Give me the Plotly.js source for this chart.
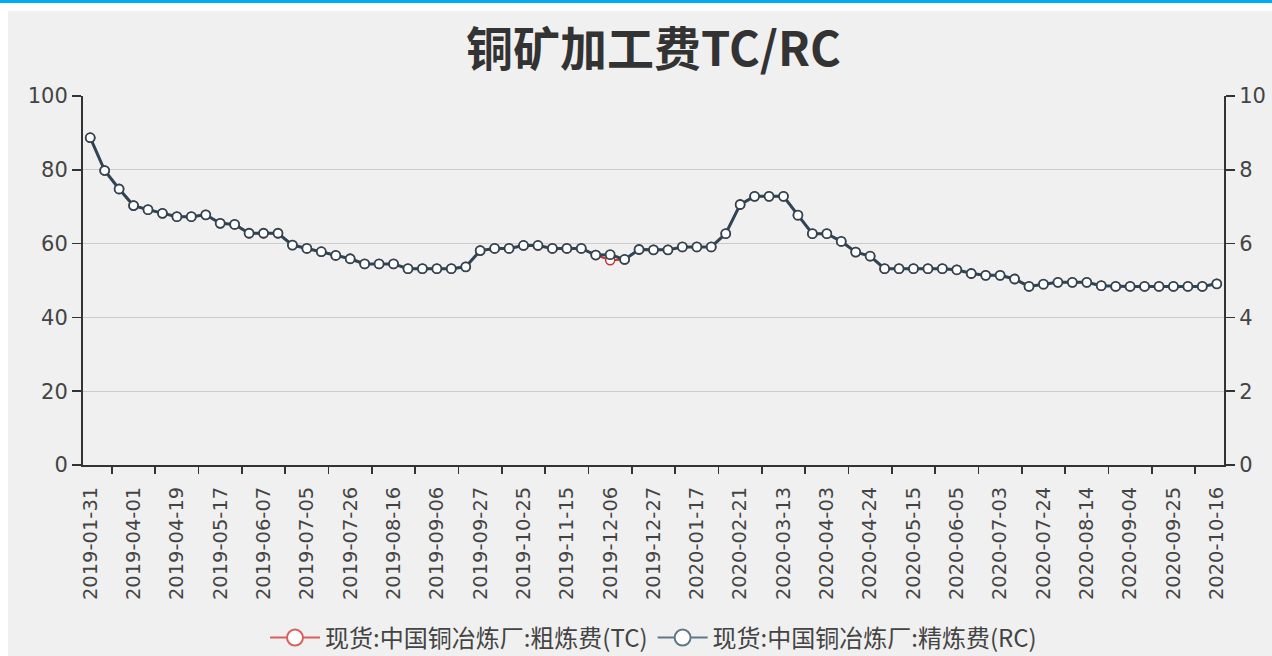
<!DOCTYPE html>
<html>
<head>
<meta charset="utf-8">
<script src="https://cdn.plot.ly/plotly-3.0.1.min.js"></script>
<style>
  html, body { margin: 0; padding: 0; background: #ffffff; width: 1272px; height: 656px; overflow: hidden; }
  #bar { position: absolute; left: 0; top: 0; width: 1272px; height: 3px; background: #00aeef; }
  #chart { position: absolute; left: 8px; top: 11px; width: 1264px; height: 645px; }
</style>
</head>
<body>
<div id="bar"></div>
<div id="chart"></div>
<script>
const dates = [
  "2019-01-31","2019-02-28","2019-03-15","2019-04-01","2019-04-04","2019-04-12",
  "2019-04-19","2019-04-26","2019-05-10","2019-05-17","2019-05-24","2019-05-31",
  "2019-06-07","2019-06-14","2019-06-28","2019-07-05","2019-07-12","2019-07-19",
  "2019-07-26","2019-08-02","2019-08-09","2019-08-16","2019-08-23","2019-08-30",
  "2019-09-06","2019-09-12","2019-09-20","2019-09-27","2019-10-11","2019-10-18",
  "2019-10-25","2019-11-01","2019-11-08","2019-11-15","2019-11-22","2019-11-29",
  "2019-12-06","2019-12-13","2019-12-20","2019-12-27","2020-01-03","2020-01-10",
  "2020-01-17","2020-02-07","2020-02-14","2020-02-21","2020-02-28","2020-03-06",
  "2020-03-13","2020-03-20","2020-03-27","2020-04-03","2020-04-10","2020-04-17",
  "2020-04-24","2020-04-30","2020-05-08","2020-05-15","2020-05-22","2020-05-29",
  "2020-06-05","2020-06-12","2020-06-19","2020-07-03","2020-07-10","2020-07-17",
  "2020-07-24","2020-07-31","2020-08-07","2020-08-14","2020-08-21","2020-08-28",
  "2020-09-04","2020-09-11","2020-09-18","2020-09-25","2020-09-30","2020-10-09",
  "2020-10-16"
];

const tcValues = [
  88.7, 79.8, 74.8, 70.3, 69.2, 68.2, 67.3, 67.3, 67.8, 65.5,
  65.2, 62.8, 62.8, 62.8, 59.6, 58.7, 57.8, 56.8, 55.9, 54.5,
  54.5, 54.5, 53.2, 53.2, 53.2, 53.2, 53.7, 58.1, 58.7, 58.7,
  59.5, 59.5, 58.7, 58.7, 58.7, 56.9, 55.5, 55.7, 58.4, 58.3,
  58.3, 59.1, 59.1, 59.1, 62.7, 70.6, 72.8, 72.8, 72.8, 67.7,
  62.7, 62.7, 60.6, 57.7, 56.6, 53.2, 53.2, 53.2, 53.2, 53.2,
  52.9, 51.9, 51.4, 51.4, 50.4, 48.4, 49.0, 49.5, 49.5, 49.5,
  48.6, 48.4, 48.4, 48.4, 48.4, 48.4, 48.4, 48.4, 49.1
];

const rcValues = [
  8.87, 7.98, 7.48, 7.03, 6.92, 6.82, 6.73, 6.73, 6.78, 6.55,
  6.52, 6.28, 6.28, 6.28, 5.96, 5.87, 5.78, 5.68, 5.59, 5.45,
  5.45, 5.45, 5.32, 5.32, 5.32, 5.32, 5.37, 5.81, 5.87, 5.87,
  5.95, 5.95, 5.87, 5.87, 5.87, 5.69, 5.70, 5.57, 5.84, 5.83,
  5.83, 5.91, 5.91, 5.91, 6.27, 7.06, 7.28, 7.28, 7.28, 6.77,
  6.27, 6.27, 6.06, 5.77, 5.66, 5.32, 5.32, 5.32, 5.32, 5.32,
  5.29, 5.19, 5.14, 5.14, 5.04, 4.84, 4.90, 4.95, 4.95, 4.95,
  4.86, 4.84, 4.84, 4.84, 4.84, 4.84, 4.84, 4.84, 4.91
];

const chartTitle = "铜矿加工费TC/RC";
const tcName = "现货:中国铜冶炼厂:粗炼费(TC)";
const rcName = "现货:中国铜冶炼厂:精炼费(RC)";
const leftTicks = [0, 20, 40, 60, 80, 100];
const rightTicks = [0, 2, 4, 6, 8, 10];

const labelStep = 3;
const N = dates.length;
const idx = dates.map((d, i) => i);
const labelDates = dates.filter((d, i) => i % labelStep === 0);
const boundaryTicks = idx.filter(i => i % labelStep === 1 && i + 1 < N).map(i => i + 0.5);

const tcColor = "#c23531";
const rcColor = "#2f4554";
const numFont = "DejaVu Sans, Arial, sans-serif";
const cjkFont = "Noto Sans CJK SC, sans-serif";

const traces = [
  {
    x: dates, y: tcValues, name: tcName, type: "scatter", mode: "lines+markers",
    xaxis: "x", yaxis: "y", showlegend: false,
    line: { color: tcColor, width: 2 },
    marker: { symbol: "circle", size: 9, color: "#ffffff", line: { color: tcColor, width: 1.5 } }
  },
  {
    x: idx, y: rcValues, name: rcName, type: "scatter", mode: "lines+markers",
    xaxis: "x2", yaxis: "y2", showlegend: false,
    line: { color: rcColor, width: 3 },
    marker: { symbol: "circle", size: 9, color: "#ffffff", line: { color: rcColor, width: 1.8 } }
  },
  {
    x: [null], y: [null], name: tcName, type: "scatter", mode: "lines+markers",
    xaxis: "x2", yaxis: "y2", showlegend: true,
    line: { color: "#d9605c", width: 2 },
    marker: { symbol: "circle", size: 16, color: "#ffffff", line: { color: "#d9605c", width: 2 } }
  },
  {
    x: [null], y: [null], name: rcName, type: "scatter", mode: "lines+markers",
    xaxis: "x2", yaxis: "y2", showlegend: true,
    line: { color: "#5f7886", width: 2 },
    marker: { symbol: "circle", size: 16, color: "#ffffff", line: { color: "#5f7886", width: 2 } }
  }
];

const layout = {
  width: 1264, height: 645,
  paper_bgcolor: "#f0f0f0", plot_bgcolor: "#f0f0f0",
  margin: { l: 75, r: 48, t: 85, b: 191, pad: 0 },
  title: {
    text: "<b>" + chartTitle + "</b>",
    font: { family: cjkFont, size: 47, color: "#333333" },
    x: 0.5, xanchor: "center", xref: "paper",
    y: 1 - 39 / 645, yanchor: "middle", yref: "container"
  },
  showlegend: true,
  legend: {
    orientation: "h", x: 0.5, xanchor: "center",
    yref: "container", y: 1 - 627 / 645, yanchor: "middle",
    font: { family: cjkFont, size: 24, color: "#444444" },
    itemwidth: 50, bgcolor: "rgba(0,0,0,0)"
  },
  xaxis: {
    type: "category", range: [-0.5, N - 0.5], autorange: false,
    tickmode: "array", tickvals: labelDates, ticktext: labelDates,
    tickangle: -90, ticks: "outside", ticklen: 12, tickcolor: "rgba(0,0,0,0)",
    tickfont: { family: numFont, size: 19.5, color: "#444444" },
    showline: true, linecolor: "#333333", linewidth: 2,
    showgrid: false, zeroline: false, fixedrange: true
  },
  xaxis2: {
    type: "linear", overlaying: "x", anchor: "y2", side: "bottom",
    range: [-0.5, N - 0.5], autorange: false,
    tickmode: "array", tickvals: boundaryTicks, showticklabels: false,
    ticks: "outside", ticklen: 8, tickwidth: 1.5, tickcolor: "#333333",
    showline: false, showgrid: false, zeroline: false, fixedrange: true
  },
  yaxis: {
    range: [0, 100], autorange: false, tickmode: "array", tickvals: leftTicks,
    ticks: "outside", ticklen: 9, tickwidth: 1.5, tickcolor: "#333333",
    tickfont: { family: numFont, size: 21, color: "#444444" },
    showline: true, linecolor: "#333333", linewidth: 2,
    showgrid: true, gridcolor: "#cccccc", gridwidth: 1, zeroline: false, fixedrange: true
  },
  yaxis2: {
    overlaying: "y", anchor: "x2", side: "right",
    range: [0, 10], autorange: false, tickmode: "array", tickvals: rightTicks,
    ticks: "outside", ticklen: 9, tickwidth: 1.5, tickcolor: "#333333",
    tickfont: { family: numFont, size: 21, color: "#444444" },
    showline: true, linecolor: "#333333", linewidth: 2,
    showgrid: false, zeroline: false, fixedrange: true
  }
};

Plotly.newPlot("chart", traces, layout, { displayModeBar: false, staticPlot: true });
</script>
</body>
</html>
